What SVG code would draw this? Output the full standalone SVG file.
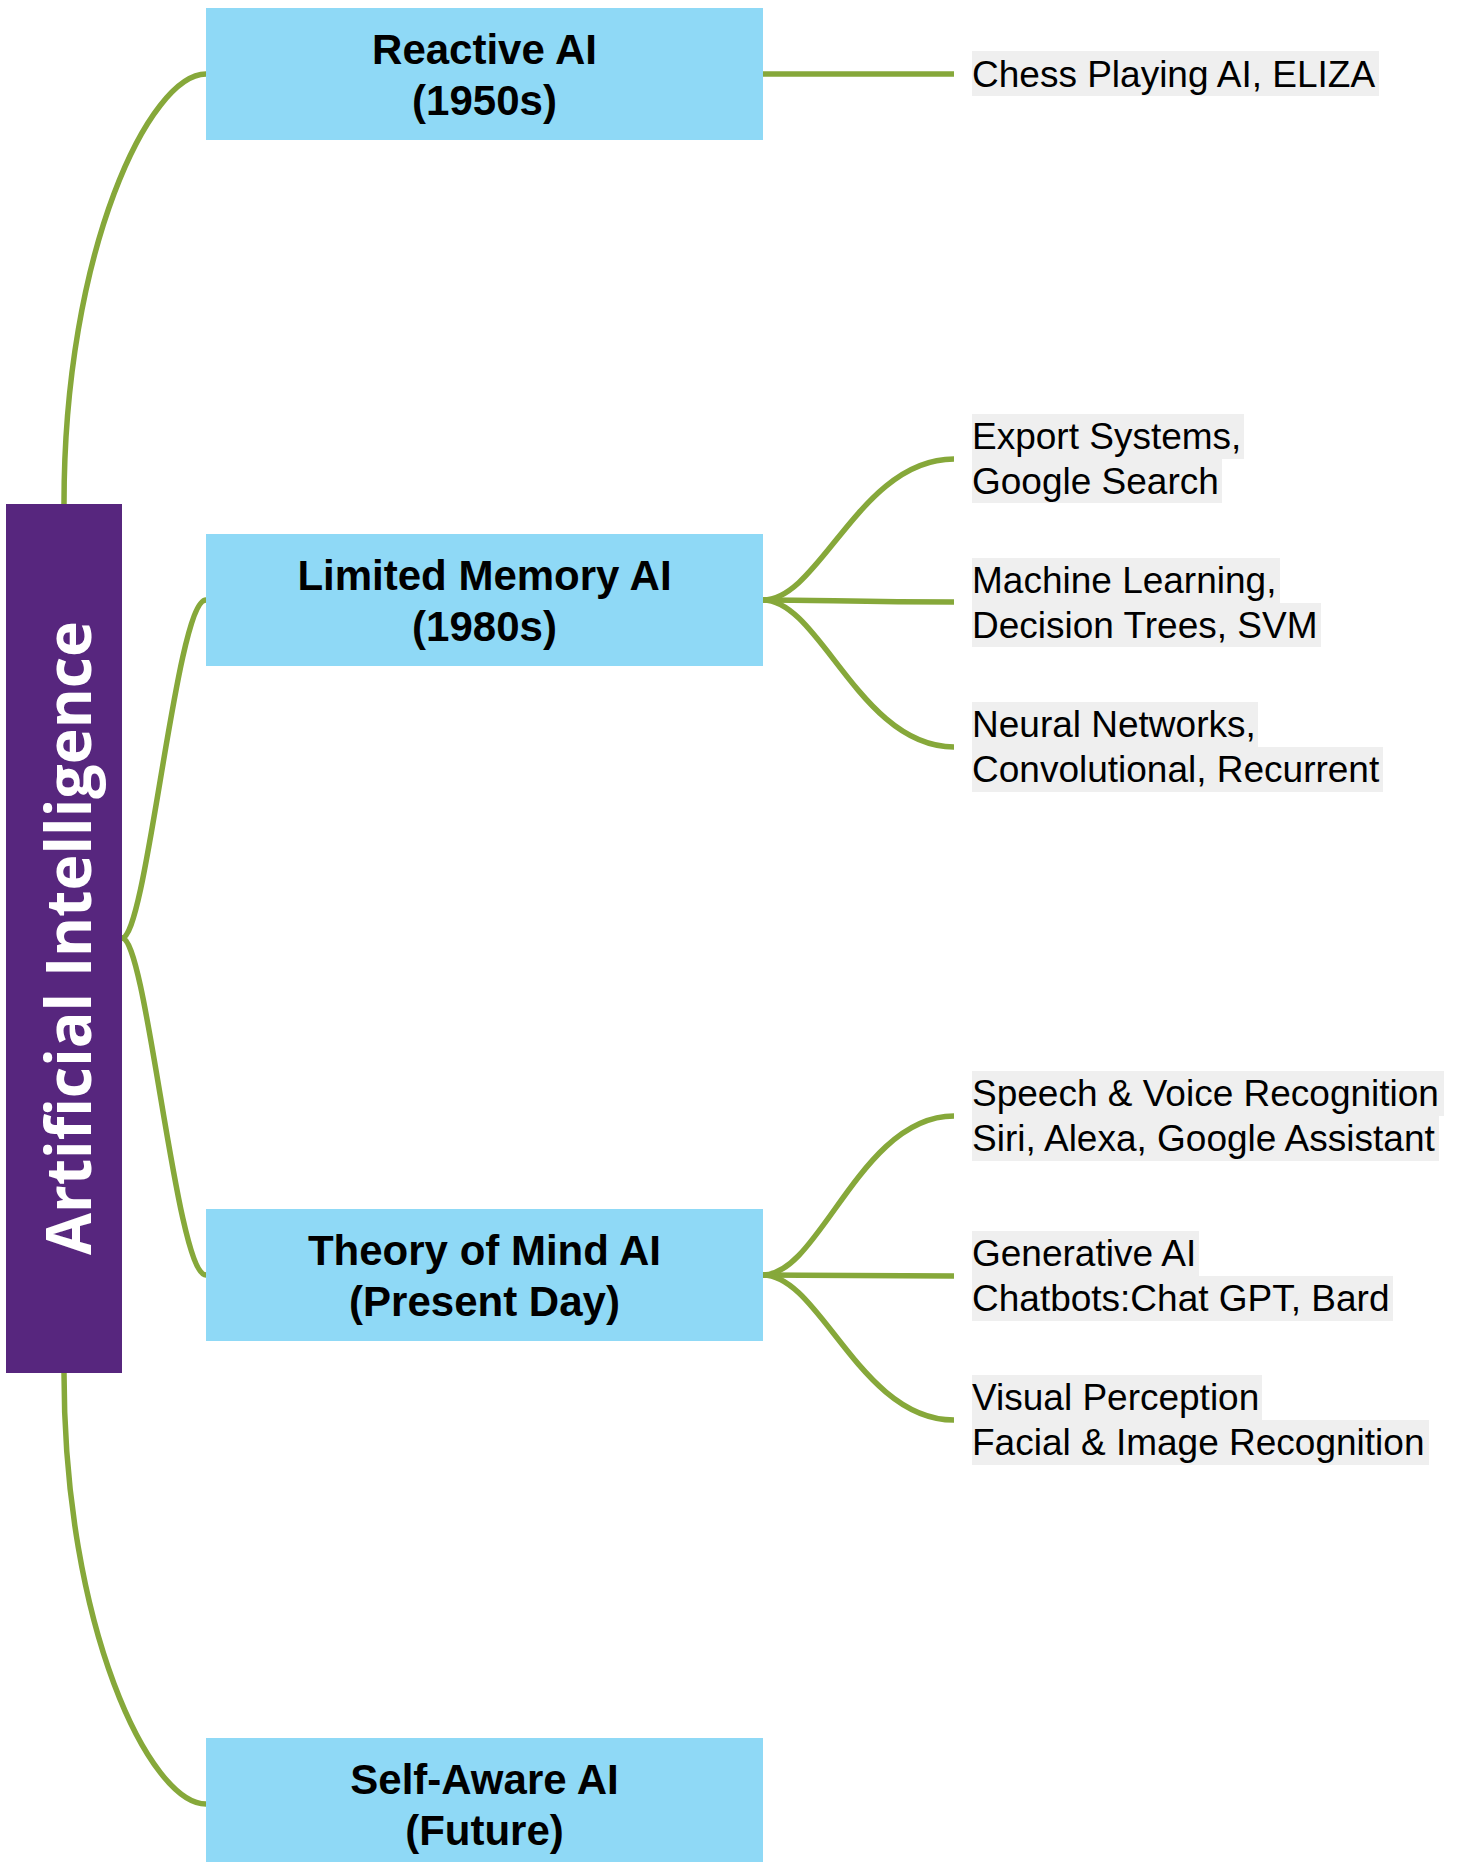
<svg xmlns="http://www.w3.org/2000/svg" width="1465" height="1862" viewBox="0 0 1465 1862">
<style>
.node{fill:#8FD9F6}
.title{font-family:"Liberation Sans",Arial,sans-serif;font-weight:bold;font-size:42px;fill:#000;text-anchor:middle}
.item{font-family:"Liberation Sans",Arial,sans-serif;font-size:37px;fill:#000}
.hl{fill:#EFEFEF}
.conn{fill:none;stroke:#86A83A;stroke-width:5.5}
.root{fill:#57267E}
.roottxt{font-family:"Open Sans",sans-serif;font-weight:bold;font-size:62px;fill:#fff;text-anchor:middle}
</style>
<rect width="1465" height="1862" fill="#fff"/>
<g id="connectors">
<path class="conn" d="M64,504 C64,250 150,74 206,74"/>
<path class="conn" d="M122,938 C147,938 176,600 206,600"/>
<path class="conn" d="M122,938 C147,938 176,1275 206,1275"/>
<path class="conn" d="M64,1373 C64,1627 150,1804 206,1804"/>
<path class="conn" d="M763,74 L954,74"/>
<path class="conn" d="M763,600 C820,600 860,459 954,459"/>
<path class="conn" d="M763,600 C820,600 860,602 954,602"/>
<path class="conn" d="M763,600 C820,600 860,747 954,747"/>
<path class="conn" d="M763,1275 C820,1275 860,1116 954,1116"/>
<path class="conn" d="M763,1275 C820,1275 860,1276 954,1276"/>
<path class="conn" d="M763,1275 C820,1275 860,1420 954,1420"/>
</g>
<g id="root">
<rect class="root" x="6" y="504" width="116" height="869"/>
<text class="roottxt" transform="translate(91,938) rotate(-90)" x="0" y="0" textLength="634" lengthAdjust="spacingAndGlyphs">Artificial Intelligence</text>
</g>
<g id="reactive">
<rect class="node" x="206" y="8" width="557" height="132"/>
<text class="title" x="484.5" y="64">Reactive AI</text>
<text class="title" x="484.5" y="115">(1950s)</text>
</g>
<g id="limited">
<rect class="node" x="206" y="534" width="557" height="132"/>
<text class="title" x="484.5" y="590">Limited Memory AI</text>
<text class="title" x="484.5" y="641">(1980s)</text>
</g>
<g id="theory">
<rect class="node" x="206" y="1209" width="557" height="132"/>
<text class="title" x="484.5" y="1265">Theory of Mind AI</text>
<text class="title" x="484.5" y="1316">(Present Day)</text>
</g>
<g id="selfaware">
<rect class="node" x="206" y="1738" width="557" height="132"/>
<text class="title" x="484.5" y="1794">Self-Aware AI</text>
<text class="title" x="484.5" y="1845">(Future)</text>
</g>
<g id="chess">
<rect class="hl" x="972" y="51" width="407" height="45"/>
<text class="item" x="972" y="87">Chess Playing AI, ELIZA</text>
</g>
<g id="export">
<rect class="hl" x="972" y="414" width="272" height="45"/>
<rect class="hl" x="972" y="459" width="250" height="44"/>
<text class="item" x="972" y="449">Export Systems,</text>
<text class="item" x="972" y="494">Google Search</text>
</g>
<g id="ml">
<rect class="hl" x="972" y="558" width="308" height="45"/>
<rect class="hl" x="972" y="603" width="349" height="44"/>
<text class="item" x="972" y="593">Machine Learning,</text>
<text class="item" x="972" y="638">Decision Trees, SVM</text>
</g>
<g id="nn">
<rect class="hl" x="972" y="702" width="286" height="45"/>
<rect class="hl" x="972" y="747" width="411" height="45"/>
<text class="item" x="972" y="737">Neural Networks,</text>
<text class="item" x="972" y="782">Convolutional, Recurrent</text>
</g>
<g id="speech">
<rect class="hl" x="972" y="1071" width="472" height="45"/>
<rect class="hl" x="972" y="1116" width="467" height="45"/>
<text class="item" x="972" y="1106">Speech &amp; Voice Recognition</text>
<text class="item" x="972" y="1151">Siri, Alexa, Google Assistant</text>
</g>
<g id="genai">
<rect class="hl" x="972" y="1231" width="227" height="45"/>
<rect class="hl" x="972" y="1276" width="421" height="45"/>
<text class="item" x="972" y="1266">Generative AI</text>
<text class="item" x="972" y="1311">Chatbots:Chat GPT, Bard</text>
</g>
<g id="visual">
<rect class="hl" x="972" y="1375" width="290" height="45"/>
<rect class="hl" x="972" y="1420" width="457" height="45"/>
<text class="item" x="972" y="1410">Visual Perception</text>
<text class="item" x="972" y="1455">Facial &amp; Image Recognition</text>
</g>
</svg>
